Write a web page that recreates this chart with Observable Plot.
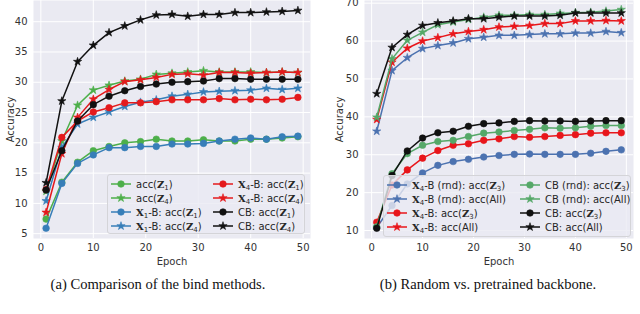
<!DOCTYPE html>
<html><head><meta charset="utf-8">
<script src="https://cdn.jsdelivr.net/npm/d3@7"></script>
<script src="https://cdn.jsdelivr.net/npm/@observablehq/plot@0.6"></script>
<style>
body{margin:0;background:#fff;}
#wrap{position:relative;width:640px;height:314px;overflow:hidden;font-family:"DejaVu Sans",sans-serif;}
.panel{position:absolute;top:0;}
.legend{position:absolute;background:rgba(234,234,242,0.8);border:1px solid #d4d4d8;border-radius:3px;box-sizing:border-box;}
.entry{position:absolute;display:flex;align-items:center;height:14px;font-size:10px;color:#262626;white-space:nowrap;}
.entry svg{margin-right:5px;flex:none;}
.m{font-family:"DejaVu Serif",serif;font-weight:bold;}
.s{font-size:7px;position:relative;top:2px;}
.cap{position:absolute;font-family:"Liberation Serif","Times New Roman",serif;font-size:14.6px;color:#111;transform:translateX(-50%);white-space:nowrap;}
</style></head><body><div id="wrap"></div>
<script>
// ---------- data ----------
const epochs = [1, 4, 7, 10, 13, 16, 19, 22, 25, 28, 31, 34, 37, 40, 43, 46, 49];
const xTicks = [0, 10, 20, 30, 40, 50];
const yTicksA = [5, 10, 15, 20, 25, 30, 35, 40];
const yTicksB = [10, 20, 30, 40, 50, 60, 70];

// (a) Comparison of the bind methods
const aGreenDot  = [7.4, 13.5, 16.8, 18.7, 19.4, 20.0, 20.2, 20.6, 20.3, 20.3, 20.5, 20.3, 20.3, 20.6, 20.6, 20.8, 21.0];
const aGreenStar = [12.0, 20.3, 26.2, 28.7, 29.5, 30.2, 30.5, 31.3, 31.5, 31.7, 31.9, 31.7, 31.7, 31.7, 31.6, 31.7, 31.6];
const aBlueDot   = [5.9, 13.3, 16.6, 18.0, 19.2, 19.2, 19.4, 19.4, 19.8, 19.8, 19.9, 20.3, 20.6, 20.8, 20.6, 21.0, 21.1];
const aBlueStar  = [10.4, 19.2, 23.1, 24.2, 25.1, 26.0, 26.7, 27.1, 27.7, 28.0, 28.4, 28.5, 28.6, 28.7, 29.0, 28.8, 29.0];
const aRedDot    = [12.3, 20.9, 23.6, 25.1, 25.8, 26.6, 26.6, 26.8, 27.1, 27.1, 27.1, 27.3, 27.1, 27.2, 27.1, 27.2, 27.5];
const aRedStar   = [8.5, 18.2, 24.2, 27.2, 28.8, 30.1, 30.4, 30.8, 31.3, 31.4, 31.2, 31.6, 31.6, 31.5, 31.6, 31.7, 31.6];
const aBlackDot  = [12.2, 18.7, 23.6, 26.3, 27.7, 28.6, 29.3, 29.7, 30.0, 30.1, 30.2, 30.6, 30.6, 30.5, 30.5, 30.5, 30.5];
const aBlackStar = [13.4, 26.9, 33.4, 36.1, 38.2, 39.3, 40.3, 41.1, 41.2, 40.9, 41.2, 41.2, 41.5, 41.5, 41.6, 41.7, 41.85];
const labelsA = ["acc(Z_1)", "acc(Z_4)", "X_1-B: acc(Z_1)", "X_1-B: acc(Z_4)",
                 "X_4-B: acc(Z_1)", "X_4-B: acc(Z_4)", "CB: acc(Z_1)", "CB: acc(Z_4)"];

// (b) Random vs. pretrained backbone
const bBlueDot   = [10.8, 16.6, 22.3, 25.2, 27.2, 28.2, 28.8, 29.4, 29.8, 30.1, 30.2, 30.1, 30.1, 30.1, 30.4, 30.9, 31.3];
const bBlueStar  = [36.2, 52.2, 55.6, 58.0, 58.8, 59.5, 60.6, 61.0, 61.5, 61.5, 61.7, 61.9, 61.9, 62.1, 62.1, 62.5, 62.2];
const bRedDot    = [12.2, 22.0, 26.0, 29.1, 31.1, 32.5, 32.9, 33.8, 34.2, 34.8, 34.6, 34.8, 35.1, 35.3, 35.7, 35.8, 35.8];
const bRedStar   = [39.3, 54.4, 58.1, 60.0, 60.9, 61.9, 62.5, 63.0, 63.7, 63.9, 64.1, 64.6, 64.6, 65.3, 65.3, 65.4, 65.3];
const bGreenDot  = [11.0, 25.0, 30.3, 32.5, 33.5, 33.8, 34.8, 35.7, 36.0, 36.4, 36.7, 37.1, 37.0, 37.1, 37.5, 37.7, 37.7];
const bGreenStar = [39.9, 55.3, 60.2, 62.3, 64.3, 65.0, 65.7, 66.3, 66.8, 66.8, 67.0, 67.0, 67.3, 67.5, 67.6, 67.9, 68.3];
const bBlackDot  = [10.6, 24.5, 31.0, 34.4, 35.8, 36.2, 37.5, 38.2, 38.4, 38.8, 39.0, 38.9, 38.9, 38.8, 38.9, 39.0, 39.0];
const bBlackStar = [46.1, 58.3, 61.7, 64.1, 64.8, 65.3, 65.9, 65.9, 66.3, 66.6, 66.6, 66.6, 66.8, 67.4, 67.4, 67.4, 67.4];
const labelsB = ["X_4-B (rnd): acc(Z_3)", "X_4-B (rnd): acc(All)", "X_4-B: acc(Z_3)", "X_4-B: acc(All)",
                 "CB (rnd): acc(Z_3)", "CB (rnd): acc(All)", "CB: acc(Z_3)", "CB: acc(All)"];

const captionA = "(a) Comparison of the bind methods.";
const captionB = "(b) Random vs. pretrained backbone.";

// ---------- styles ----------
const cA = {green: "#4daf4a", blue: "#377eb8", red: "#e41a1c", black: "#111111"};
const cB = {green: "#55a868", blue: "#4c72b0", red: "#e8161b", black: "#111111"};

const seriesA = [
  {values: aGreenDot, color: cA.green, marker: "circle"},
  {values: aGreenStar, color: cA.green, marker: "star"},
  {values: aBlueDot, color: cA.blue, marker: "circle"},
  {values: aBlueStar, color: cA.blue, marker: "star"},
  {values: aRedDot, color: cA.red, marker: "circle"},
  {values: aRedStar, color: cA.red, marker: "star"},
  {values: aBlackDot, color: cA.black, marker: "circle"},
  {values: aBlackStar, color: cA.black, marker: "star"}
].map((s, i) => ({...s, label: labelsA[i]}));

const seriesB = [
  {values: bBlueDot, color: cB.blue, marker: "circle"},
  {values: bBlueStar, color: cB.blue, marker: "star"},
  {values: bRedDot, color: cB.red, marker: "circle"},
  {values: bRedStar, color: cB.red, marker: "star"},
  {values: bGreenDot, color: cB.green, marker: "circle"},
  {values: bGreenStar, color: cB.green, marker: "star"},
  {values: bBlackDot, color: cB.black, marker: "circle"},
  {values: bBlackStar, color: cB.black, marker: "star"}
].map((s, i) => ({...s, label: labelsB[i]}));

const R = {circle: 3.3, star: 2.6};

function panel({series, yDomain, yTicks, marginLeft, marginRight, yLabelOffset}) {
  const marks = [
    Plot.frame({fill: "#eaeaf2", stroke: "none"}),
    Plot.ruleX(xTicks, {stroke: "#ffffff", strokeWidth: 1}),
    Plot.ruleY(yTicks, {stroke: "#ffffff", strokeWidth: 1})
  ];
  for (const s of series) {
    const rows = epochs.map((e, i) => ({epoch: e, value: s.values[i]}));
    marks.push(Plot.line(rows, {x: "epoch", y: "value", stroke: s.color, strokeWidth: 1.5}));
    marks.push(Plot.dot(rows, {x: "epoch", y: "value", fill: s.color, stroke: s.color, strokeWidth: 0.6,
                               symbol: s.marker, r: R[s.marker]}));
  }
  return Plot.plot({
    width: 320, height: 270,
    marginLeft, marginRight, marginTop: 0, marginBottom: 32,
    style: {fontFamily: "DejaVu Sans", fontSize: "10px", color: "#333", background: "transparent", overflow: "visible"},
    x: {domain: [-1.4, 51.4], ticks: xTicks, tickSize: 0, tickPadding: 5, label: "Epoch",
        labelAnchor: "center", labelOffset: 26, labelArrow: "none"},
    y: {domain: yDomain, ticks: yTicks, tickSize: 0, tickPadding: 6, label: "Accuracy",
        labelAnchor: "center", labelOffset: yLabelOffset, labelArrow: "none"},
    marks
  });
}

function fmt(label) {
  return label.replace(/([XZ])_(\w)/g, '<span class="m">$1</span><span class="s">$2</span>');
}

function swatch(color, marker) {
  const w = 20, h = 10;
  const sym = marker === "star" ? d3.symbolStar : d3.symbolCircle;
  const path = d3.symbol(sym, Math.PI * R[marker] * R[marker])();
  return `<svg width="${w}" height="${h}"><line x1="0" x2="${w}" y1="5" y2="5" stroke="${color}" stroke-width="1.5"/>` +
         `<path d="${path}" transform="translate(${w/2},5)" fill="${color}" stroke="${color}" stroke-width="0.6"/></svg>`;
}

function legend(series, {left, top, width, height, col2, firstRow, step, pad}) {
  const box = document.createElement("div");
  box.className = "legend";
  Object.assign(box.style, {left: left + "px", top: top + "px", width: width + "px", height: height + "px"});
  series.forEach((s, i) => {
    const col = Math.floor(i / 4), row = i % 4;
    const e = document.createElement("div");
    e.className = "entry";
    e.style.left = (col === 0 ? pad : col2) + "px";
    e.style.top = (firstRow + row * step - 7) + "px";
    e.innerHTML = swatch(s.color, s.marker) + "<span>" + fmt(s.label) + "</span>";
    box.appendChild(e);
  });
  return box;
}

const wrap = document.getElementById("wrap");

const pA = panel({series: seriesA, yDomain: [4.2, 43.5], yTicks: yTicksA, marginLeft: 33, marginRight: 10, yLabelOffset: 27});
pA.classList.add("panel"); pA.style.left = "0px";
wrap.appendChild(pA);

const pB = panel({series: seriesB, yDomain: [7.9, 70.7], yTicks: yTicksB, marginLeft: 44, marginRight: 7, yLabelOffset: 29});
pB.classList.add("panel"); pB.style.left = "320px";
wrap.appendChild(pB);

wrap.appendChild(legend(seriesA, {left: 107, top: 174, width: 198, height: 60, col2: 105, firstRow: 9, step: 14, pad: 3}));
wrap.appendChild(legend(seriesB, {left: 383, top: 175, width: 248, height: 62, col2: 136, firstRow: 9, step: 14, pad: 3}));

for (const [text, cx] of [[captionA, 158], [captionB, 488]]) {
  const c = document.createElement("div");
  c.className = "cap";
  c.textContent = text;
  c.style.left = cx + "px";
  c.style.top = "276px";
  wrap.appendChild(c);
}
</script></body></html>
